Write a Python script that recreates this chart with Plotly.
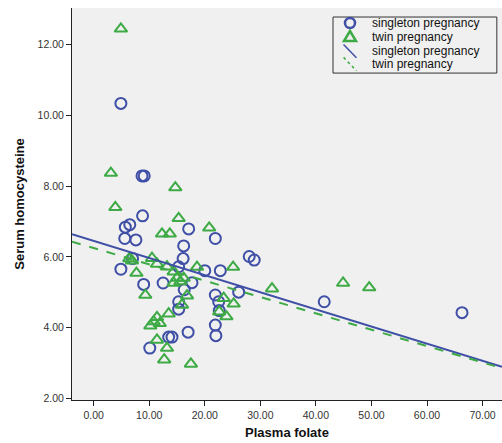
import plotly.graph_objects as go

# Singleton pregnancy (blue circles)
singleton_x = [4.9, 8.7, 9.1, 8.8, 5.7, 6.5, 5.6, 7.6, 4.9, 7.0, 17.1, 21.9, 16.2, 16.1,
               15.3, 9.0, 12.5, 17.7, 20.0, 22.8, 28.0, 28.9, 26.1, 21.9, 22.5, 22.6,
               15.3, 15.3, 16.3, 13.5, 14.1, 17.0, 10.1, 21.9, 22.0, 41.5, 66.3]
singleton_y = [10.34, 8.29, 8.29, 7.16, 6.84, 6.91, 6.52, 6.48, 5.65, 5.95, 6.79, 6.52, 6.31, 5.95,
               5.72, 5.22, 5.26, 5.27, 5.61, 5.61, 6.01, 5.91, 5.00, 4.92, 4.73, 4.48,
               4.73, 4.52, 5.07, 3.73, 3.73, 3.87, 3.42, 4.07, 3.77, 4.73, 4.42]

# Twin pregnancy (green triangles)
twin_x = [4.9, 3.1, 14.7, 3.9, 15.3, 20.8, 12.3, 13.7, 6.9, 6.4, 10.5, 11.4, 13.2, 14.4,
          7.7, 9.3, 15.0, 15.6, 16.2, 14.4, 18.6, 25.1, 32.1, 44.9, 49.6, 16.8, 23.4,
          25.2, 22.6, 23.9, 13.5, 11.4, 10.8, 10.2, 11.9, 11.4, 13.2, 12.7, 17.5, 15.9]
twin_y = [12.45, 8.37, 7.96, 7.40, 7.09, 6.82, 6.65, 6.65, 5.89, 5.95, 5.96, 5.80, 5.72, 5.58,
          5.54, 4.92, 5.40, 5.30, 5.40, 5.26, 5.71, 5.71, 5.10, 5.26, 5.13, 4.90, 4.83,
          4.67, 4.45, 4.31, 4.39, 4.29, 4.17, 4.05, 4.12, 3.65, 3.42, 3.09, 2.97, 4.64]

# Fit lines (endpoints)
fit_x = [-3.9, 73.5]
singleton_fit_y = [6.64, 2.89]
twin_fit_y = [6.43, 2.85]

x_ticks = [0, 10, 20, 30, 40, 50, 60, 70]
y_ticks = [2, 4, 6, 8, 10, 12]

legend_labels = ["singleton pregnancy", "twin pregnancy", "singleton pregnancy", "twin pregnancy"]

BLUE = "#3F4FA6"
GREEN = "#3DAA45"
FONT = "Liberation Sans, Arial, sans-serif"

fig = go.Figure()
fig.add_trace(go.Scatter(
    x=singleton_x, y=singleton_y, mode="markers", name=legend_labels[0],
    marker=dict(symbol="circle-open", size=11, color=BLUE, line=dict(width=2, color=BLUE))))
fig.add_trace(go.Scatter(
    x=twin_x, y=twin_y, mode="markers", name=legend_labels[1],
    marker=dict(symbol="triangle-up-open", size=11, color=GREEN, line=dict(width=2, color=GREEN))))
fig.add_trace(go.Scatter(
    x=fit_x, y=singleton_fit_y, mode="lines", name=legend_labels[2],
    line=dict(color=BLUE, width=2)))
fig.add_trace(go.Scatter(
    x=fit_x, y=twin_fit_y, mode="lines", name=legend_labels[3],
    line=dict(color=GREEN, width=2, dash="dash")))

# Compact legend box (paper coordinates of the plot area)
L_X0, L_X1, L_Y0, L_Y1 = 0.607, 0.988, 0.834, 0.977
row_y = [0.9617, 0.926, 0.890, 0.857]
sym_x = 0.6465
text_x = 0.693

shapes = [
    dict(type="rect", xref="paper", yref="paper", x0=L_X0, x1=L_X1, y0=L_Y0, y1=L_Y1,
         line=dict(color="#333", width=1), fillcolor="#F0F0F0", layer="above"),
    dict(type="circle", xref="paper", yref="paper", xsizemode="pixel", ysizemode="pixel",
         xanchor=sym_x, yanchor=row_y[0], x0=-5, x1=5, y0=-5, y1=5,
         line=dict(color=BLUE, width=2.5), layer="above"),
    dict(type="path", xref="paper", yref="paper", xsizemode="pixel", ysizemode="pixel",
         xanchor=sym_x, yanchor=row_y[1], path="M -6,-4 L 6,-4 L 0,6 Z",
         line=dict(color=GREEN, width=2.5), layer="above"),
    dict(type="line", xref="paper", yref="paper",
         x0=sym_x - 0.015, x1=sym_x + 0.015, y0=row_y[2] + 0.017, y1=row_y[2] - 0.017,
         line=dict(color=BLUE, width=1.5), layer="above"),
    dict(type="line", xref="paper", yref="paper",
         x0=sym_x - 0.015, x1=sym_x + 0.015, y0=row_y[3] + 0.017, y1=row_y[3] - 0.017,
         line=dict(color=GREEN, width=1.5, dash="dot"), layer="above"),
]
annotations = [
    dict(x=text_x, y=yy, xref="paper", yref="paper", text=lab, showarrow=False,
         xanchor="left", yanchor="middle", font=dict(size=12, color="#111", family=FONT))
    for lab, yy in zip(legend_labels, row_y)
]

fig.update_layout(
    width=502, height=443,
    margin=dict(l=72, r=0, t=8, b=43),
    paper_bgcolor="white",
    plot_bgcolor="#F0F0F0",
    font=dict(family=FONT, size=10, color="#222"),
    showlegend=False,
    shapes=shapes,
    annotations=annotations,
)
fig.update_xaxes(
    range=[-3.9, 73.5], tickvals=x_ticks, ticktext=[f"{v:.2f}" for v in x_ticks],
    showgrid=False, zeroline=False, showline=True, linecolor="#222", linewidth=1,
    ticks="outside", ticklen=5, tickcolor="#222",
    tickfont=dict(size=10.5, color="#333"),
    title=dict(text="<b>Plasma folate</b>", font=dict(size=13, color="#111"), standoff=8))
fig.update_yaxes(
    range=[1.95, 13.04], tickvals=y_ticks, ticktext=[f"{v:.2f}" for v in y_ticks],
    showgrid=False, zeroline=False, showline=True, linecolor="#222", linewidth=1,
    ticks="outside", ticklen=5, tickcolor="#222",
    tickfont=dict(size=10.5, color="#333"),
    title=dict(text="<b>Serum homocysteine</b>", font=dict(size=13, color="#111"), standoff=10))

fig.write_html("out.html")
